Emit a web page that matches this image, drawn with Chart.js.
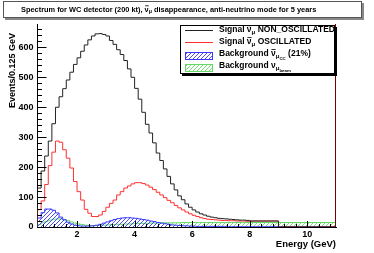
<!DOCTYPE html>
<html>
<head>
<meta charset="utf-8">
<script src="https://cdn.jsdelivr.net/npm/chart.js@4.4.0/dist/chart.umd.min.js"></script>
<style>
html, body { margin: 0; padding: 0; background: #fff; }
#wrap { width: 374px; height: 253px; }
</style>
</head>
<body>
<div id="wrap"><canvas id="spectrum" width="374" height="253"></canvas></div>
<script>
// binning: 0.125 GeV from 0.625 to 8 GeV, then 8-9 and 9-11 GeV
const binStart = 0.625;
const binWidth = 0.125;
const fineBins = 59;
const coarseEdges = [9, 11];

// events per bin
const nonOscillated = [130, 187, 237, 287, 345, 400, 435, 462, 491, 517, 543, 565, 587, 608, 625, 638,
  645, 646, 643, 638, 623, 610, 592, 576, 556, 528, 500, 463, 427, 383, 343, 314, 281, 247, 222, 194,
  169, 144, 124, 104, 91, 77, 66, 57, 50, 44, 40, 36, 33, 31, 29, 28, 27, 26, 25, 24, 23, 23, 22,
  20, 0];
const oscillated = [58, 87, 142, 205, 250, 287, 283, 258, 230, 197, 152, 118, 90, 59, 46, 35, 35, 40,
  52, 66, 79, 90, 107, 118, 130, 137, 144, 148, 148, 145, 140, 133, 125, 116, 107, 98, 89, 81, 72, 64,
  57, 50, 44, 39, 35, 31, 28, 26, 25, 24, 23, 22, 22, 21, 21, 20, 20, 20, 19,
  20, 0];
const bkgAntiNumuCC = [30, 48, 60, 60, 56, 47, 33, 24, 16, 10, 6, 4, 3, 3, 3, 4, 6, 9, 13, 17, 21, 25,
  28, 30, 31, 31, 30, 29, 27, 25, 23, 20, 18, 15, 13, 11, 9, 7, 6, 5, 4, 4, 3, 3, 2, 2, 2, 2, 2, 2, 2,
  2, 1, 1, 1, 1, 1, 1, 1,
  1, 1];
const bkgNumuBeam = [8, 14, 19, 23, 26, 27, 27, 25, 21, 17, 13, 10, 8, 6, 5, 5, 5, 6, 6, 7, 8, 8, 9, 9,
  10, 10, 11, 11, 12, 12, 12, 13, 13, 13, 14, 14, 14, 14, 14, 14, 15, 15, 15, 15, 15, 15, 15, 15, 15,
  15, 15, 15, 15, 15, 15, 15, 15, 15, 15,
  15, 15];

const xTicks = [2, 4, 6, 8, 10];
const yTicks = [0, 100, 200, 300, 400, 500, 600];

const FONT = '"Liberation Sans", Arial, Helvetica, sans-serif';

const edges = [];
for (let i = 0; i <= fineBins; i++) edges.push(binStart + i * binWidth);
edges.push(...coarseEdges);

function histPoints(vals) {
  const pts = [{ x: edges[0], y: 0 }];
  vals.forEach((v, i) => pts.push({ x: edges[i], y: v }));
  pts.push({ x: edges[vals.length], y: vals[vals.length - 1] });
  pts.push({ x: edges[vals.length], y: 0 });
  return pts;
}

function hatch(color) {
  const c = document.createElement('canvas');
  c.width = 4; c.height = 4;
  const g = c.getContext('2d');
  g.strokeStyle = color;
  g.lineWidth = 0.9;
  g.beginPath();
  g.moveTo(0, 4); g.lineTo(4, 0);
  g.moveTo(-1, 1); g.lineTo(1, -1);
  g.moveTo(3, 5); g.lineTo(5, 3);
  g.stroke();
  return g.createPattern(c, 'repeat');
}

// text with nu-bar and sub/sub-sub scripts
function richText(ctx, x, y, parts, size, align) {
  let w = 0;
  const items = parts.map(p => {
    const lv = p.lv || 0;
    const s = size * Math.pow(0.72, lv);
    ctx.font = 'bold ' + s + 'px ' + FONT;
    const mw = ctx.measureText(p.t).width;
    w += mw;
    return { t: p.t, s, w: mw, dy: lv === 0 ? 0 : (lv === 1 ? size * 0.3 : size * 0.62), bar: p.bar };
  });
  let cx = align === 'right' ? x - w : x;
  ctx.textAlign = 'left';
  ctx.textBaseline = 'middle';
  items.forEach(it => {
    ctx.font = 'bold ' + it.s + 'px ' + FONT;
    ctx.fillText(it.t, cx, y + it.dy);
    if (it.bar) ctx.fillRect(cx + 0.5, y + it.dy - it.s * 0.55, it.w - 0.5, 0.8);
    cx += it.w;
  });
}

const decor = {
  id: 'decor',
  afterDatasetsDraw(chart) {
    const ctx = chart.ctx, a = chart.chartArea;
    const xs = chart.scales.x, ys = chart.scales.y;
    ctx.save();
    // right edge line
    ctx.strokeStyle = '#7a0000';
    ctx.lineWidth = 1;
    const rx = Math.round(xs.getPixelForValue(11)) - 0.5;
    ctx.beginPath(); ctx.moveTo(rx, a.bottom); ctx.lineTo(rx, a.top); ctx.stroke();
    // axis ticks (ROOT style, inside)
    ctx.strokeStyle = '#000';
    ctx.beginPath();
    for (let v = 0; v <= 660; v += 20) {
      const py = Math.round(ys.getPixelForValue(v)) + 0.5;
      const len = v % 100 === 0 ? 9 : 4.5;
      ctx.moveTo(a.left, py); ctx.lineTo(a.left + len, py);
    }
    for (let k = 2; k <= 27; k++) {
      const v = k * 0.4;
      const px = Math.round(xs.getPixelForValue(v)) + 0.5;
      const major = Math.abs(v / 2 - Math.round(v / 2)) < 1e-6;
      ctx.moveTo(px, a.bottom); ctx.lineTo(px, a.bottom - (major ? 6 : 3));
    }
    ctx.stroke();
    ctx.restore();
  },
  afterDraw(chart) {
    const ctx = chart.ctx;
    ctx.save();
    ctx.fillStyle = '#000';
    // axis titles
    ctx.font = 'bold 9.5px ' + FONT;
    ctx.textAlign = 'right';
    ctx.textBaseline = 'middle';
    ctx.fillText('Energy (GeV)', 336, 244);
    ctx.save();
    ctx.translate(13, 33);
    ctx.rotate(-Math.PI / 2);
    ctx.font = 'bold 9px ' + FONT;
    ctx.fillText('Events/0.125 GeV', 0, 0);
    ctx.restore();

    // title box
    ctx.fillStyle = '#888';
    ctx.fillRect(5, 3, 359, 17);
    ctx.fillStyle = '#fff';
    ctx.fillRect(3.5, 1.5, 358, 16);
    ctx.strokeStyle = '#555';
    ctx.lineWidth = 1;
    ctx.strokeRect(3.5, 1.5, 358, 16);
    ctx.fillStyle = '#000';
    richText(ctx, 21, 9.5, [
      { t: 'Spectrum for WC detector (200 kt), ' },
      { t: '\u03bd', bar: true }, { t: '\u03bc', lv: 1 },
      { t: ' disappearance, anti-neutrino mode for 5 years' }
    ], 7.4);

    // legend
    ctx.fillStyle = '#000';
    ctx.fillRect(182, 27, 155, 49);
    ctx.fillStyle = '#fff';
    ctx.fillRect(180.5, 25.5, 154, 48);
    ctx.strokeStyle = '#000';
    ctx.strokeRect(180.5, 25.5, 154, 48);

    ctx.lineWidth = 1;
    ctx.strokeStyle = '#222';
    ctx.beginPath(); ctx.moveTo(185, 30.5); ctx.lineTo(213, 30.5); ctx.stroke();
    ctx.strokeStyle = '#ff3030';
    ctx.beginPath(); ctx.moveTo(185, 42.5); ctx.lineTo(213, 42.5); ctx.stroke();

    ctx.fillStyle = hatch('#3a3aff');
    ctx.fillRect(185, 52, 28, 8);
    ctx.strokeStyle = '#3a3aff';
    ctx.strokeRect(185.5, 52.5, 27, 7);
    ctx.fillStyle = hatch('#66d866');
    ctx.fillRect(185, 64, 28, 8);
    ctx.strokeStyle = '#66d866';
    ctx.strokeRect(185.5, 64.5, 27, 7);

    ctx.fillStyle = '#000';
    const fs = 8.5;
    richText(ctx, 219, 30, [
      { t: 'Signal ' }, { t: '\u03bd', bar: true }, { t: '\u03bc', lv: 1 }, { t: ' NON_OSCILLATED' }
    ], fs);
    richText(ctx, 219, 41.7, [
      { t: 'Signal ' }, { t: '\u03bd', bar: true }, { t: '\u03bc', lv: 1 }, { t: ' OSCILLATED' }
    ], fs);
    richText(ctx, 219, 53.8, [
      { t: 'Background ' }, { t: '\u03bd', bar: true }, { t: '\u03bc', lv: 1 }, { t: 'CC', lv: 2 },
      { t: ' (21%)' }
    ], fs);
    richText(ctx, 219, 65.8, [
      { t: 'Background ' }, { t: '\u03bd' }, { t: '\u03bc', lv: 1 }, { t: 'beam', lv: 2 }
    ], fs);
    ctx.restore();
  }
};

const ctx = document.getElementById('spectrum').getContext('2d');
const chart = new Chart(ctx, {
  type: 'line',
  data: {
    datasets: [
      { label: 'Signal NON_OSCILLATED', data: histPoints(nonOscillated), borderColor: '#222', fill: false },
      { label: 'Signal OSCILLATED', data: histPoints(oscillated), borderColor: '#ff3030', fill: false },
      { label: 'Background anti-numu CC', data: histPoints(bkgAntiNumuCC), borderColor: '#3a3aff',
        backgroundColor: hatch('#3a3aff'), fill: 'origin' },
      { label: 'Background numu beam', data: histPoints(bkgNumuBeam), borderColor: '#66d866',
        backgroundColor: hatch('#66d866'), fill: 'origin' }
    ]
  },
  options: {
    responsive: false,
    animation: false,
    events: [],
    layout: { padding: { top: 24, right: 38, left: 0, bottom: 0 } },
    elements: {
      line: { borderWidth: 1, stepped: true, tension: 0 },
      point: { radius: 0 }
    },
    scales: {
      x: {
        type: 'linear',
        min: binStart,
        max: 11,
        grid: { display: false, drawTicks: false, tickLength: 0 },
        border: { display: true, color: '#000', width: 1 },
        ticks: { color: '#000', padding: 2, font: { family: FONT, size: 9, weight: 'bold' } },
        afterBuildTicks: s => { s.ticks = xTicks.map(v => ({ value: v })); },
        afterFit: s => { s.height = 26; }
      },
      y: {
        min: 0,
        max: 678,
        grid: { display: false, drawTicks: false, tickLength: 0 },
        border: { display: true, color: '#000', width: 1 },
        ticks: { color: '#000', padding: 4, font: { family: FONT, size: 9, weight: 'bold' } },
        afterBuildTicks: s => { s.ticks = yTicks.map(v => ({ value: v })); },
        afterFit: s => { s.width = 37.5; }
      }
    },
    plugins: {
      legend: { display: false },
      tooltip: { enabled: false }
    }
  },
  plugins: [decor]
});
</script>
</body>
</html>
